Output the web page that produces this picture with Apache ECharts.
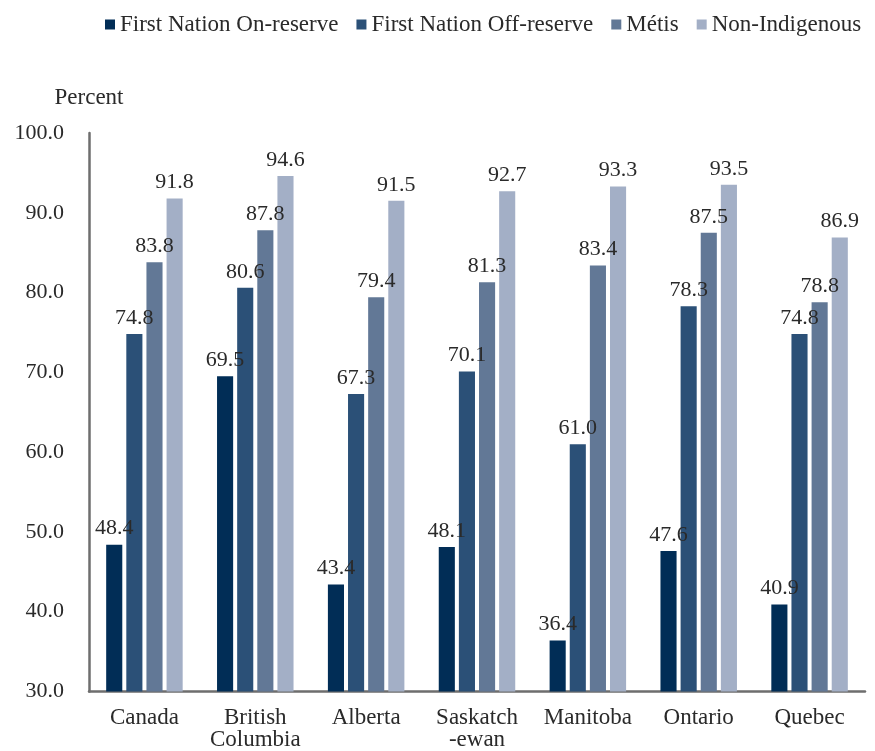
<!DOCTYPE html>
<html><head><meta charset="utf-8">
<script src="https://cdn.jsdelivr.net/npm/echarts@6/dist/echarts.min.js"></script>
<style>html,body{margin:0;padding:0;background:#fff}#c{width:875px;height:751px}</style>
</head><body><div id="c"></div>
<script>
const categories = ['Canada', 'British\nColumbia', 'Alberta', 'Saskatch\n-ewan', 'Manitoba', 'Ontario', 'Quebec'];
const seriesNames = ['First Nation On-reserve', 'First Nation Off-reserve', 'Métis', 'Non-Indigenous'];
const onReserve = [48.4, 69.5, 43.4, 48.1, 36.4, 47.6, 40.9];
const offReserve = [74.8, 80.6, 67.3, 70.1, 61.0, 78.3, 74.8];
const metis = [83.8, 87.8, 79.4, 81.3, 83.4, 87.5, 78.8];
const nonIndigenous = [91.8, 94.6, 91.5, 92.7, 93.3, 93.5, 86.9];
const colors = ['#012d56', '#2b5077', '#627896', '#a3afc6'];
const FONT = 'Liberation Serif';
const chart = echarts.init(document.getElementById('c'));
const mk = (name, data, i) => ({
  name, type: 'bar', data, barGap: '25%', barCategoryGap: '31%',
  itemStyle: { color: colors[i] },
  label: { show: true, position: 'top', distance: 5, color: '#2a2a2a', fontFamily: FONT, fontSize: 22,
    formatter: p => p.value.toFixed(1) }
});
chart.setOption({
  animation: false,
  textStyle: { fontFamily: FONT },
  legend: {
    top: 8, left: 100, itemWidth: 10, itemHeight: 10, itemGap: 18,
    icon: 'rect',
    textStyle: { fontFamily: FONT, fontSize: 23, color: '#2a2a2a', padding: [0, 0, 0, 0] },
    data: seriesNames
  },
  grid: { left: 89, right: 10, top: 133, bottom: 58, containLabel: false },
  xAxis: {
    type: 'category', data: categories,
    axisLine: { lineStyle: { color: '#6e6e6e', width: 2.5 } },
    axisTick: { show: false },
    axisLabel: { interval: 0, hideOverlap: false, fontFamily: FONT, fontSize: 23, color: '#2a2a2a', margin: 15, lineHeight: 22 }
  },
  yAxis: {
    type: 'value', min: 30, max: 100, interval: 10,
    name: 'Percent', nameLocation: 'end', nameGap: 24,
    nameTextStyle: { fontFamily: FONT, fontSize: 23, color: '#2a2a2a', align: 'center', padding: [0, 0, 0, 0] },
    axisLine: { show: true, lineStyle: { color: '#6e6e6e', width: 2.5 } },
    axisTick: { show: false },
    splitLine: { show: false },
    axisLabel: { fontFamily: FONT, fontSize: 22, color: '#2a2a2a', margin: 25, formatter: v => v.toFixed(1) }
  },
  series: [mk(seriesNames[0], onReserve, 0), mk(seriesNames[1], offReserve, 1), mk(seriesNames[2], metis, 2), mk(seriesNames[3], nonIndigenous, 3)]
});
</script></body></html>
